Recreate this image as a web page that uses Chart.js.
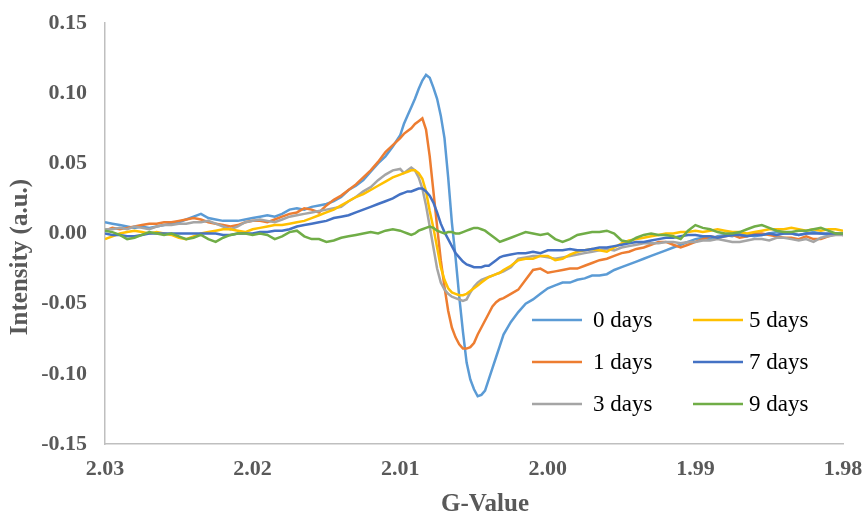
<!DOCTYPE html>
<html>
<head>
<meta charset="utf-8">
<script src="https://cdn.jsdelivr.net/npm/chart.js@4.4.1/dist/chart.umd.min.js"></script>
<style>
html,body{margin:0;padding:0;background:#ffffff;}
canvas{display:block;}
</style>
</head>
<body>
<canvas id="c" width="864" height="516"></canvas>
<script>
// G-values (x), shared by every series
const gValues = [
  2.0300, 2.0295, 2.0290, 2.0285, 2.0280, 2.0275, 2.0270, 2.0265, 2.0260, 2.0255,
  2.0250, 2.0245, 2.0240, 2.0235, 2.0230, 2.0225, 2.0220, 2.0215, 2.0210, 2.0205,
  2.0200, 2.0195, 2.0190, 2.0185, 2.0180, 2.0175, 2.0170, 2.0165, 2.0160, 2.0155,
  2.0150, 2.0145, 2.0140, 2.0135, 2.0130, 2.0125, 2.0120, 2.0115, 2.0110, 2.0105,
  2.01000, 2.00975, 2.00950, 2.00925, 2.00900, 2.00875, 2.00850, 2.00825, 2.00800, 2.00775,
  2.00750, 2.00725, 2.00700, 2.00675, 2.00650, 2.00625, 2.00600, 2.00575, 2.00550, 2.00525,
  2.00500, 2.00475, 2.00450, 2.00425, 2.00400, 2.00375, 2.00350, 2.00325, 2.00300,
  2.0025, 2.0020, 2.0015, 2.0010, 2.0005, 2.0000, 1.9995, 1.9990, 1.9985, 1.9980,
  1.9975, 1.9970, 1.9965, 1.9960, 1.9955, 1.9950, 1.9945, 1.9940, 1.9935, 1.9930,
  1.9925, 1.9920, 1.9915, 1.9910, 1.9905, 1.9900, 1.9895, 1.9890, 1.9885, 1.9880,
  1.9875, 1.9870, 1.9865, 1.9860, 1.9855, 1.9850, 1.9845, 1.9840, 1.9835, 1.9830,
  1.9825, 1.9820, 1.9815, 1.9810, 1.9805, 1.9800
];

const days0 = [
  0.008, 0.007, 0.006, 0.005, 0.004, 0.005, 0.004, 0.005, 0.006, 0.007,
  0.008, 0.010, 0.012, 0.014, 0.011, 0.010, 0.009, 0.009, 0.009, 0.010,
  0.011, 0.012, 0.013, 0.012, 0.014, 0.017, 0.018, 0.017, 0.019, 0.020,
  0.021, 0.023, 0.026, 0.031, 0.034, 0.038, 0.044, 0.050, 0.055, 0.062,
  0.070, 0.078, 0.084, 0.090, 0.096, 0.103, 0.109, 0.113, 0.111, 0.104,
  0.096, 0.084, 0.068, 0.040, 0.008, -0.017, -0.045, -0.070, -0.092, -0.104,
  -0.111, -0.116, -0.115, -0.112, -0.104, -0.096, -0.088, -0.080, -0.072,
  -0.063, -0.056, -0.050, -0.047, -0.043, -0.039, -0.037, -0.035, -0.035, -0.033,
  -0.032, -0.030, -0.030, -0.029, -0.026, -0.024, -0.022, -0.020, -0.018, -0.016,
  -0.014, -0.012, -0.010, -0.008, -0.006, -0.004, -0.003, -0.004, -0.002, -0.001,
  -0.002, 0.000, -0.001, -0.002, -0.001, 0.000, 0.001, 0.000, 0.000, -0.001,
  0.000, 0.001, 0.000, -0.001, 0.000, -0.001
];

const days1 = [
  0.002, 0.004, 0.003, 0.004, 0.005, 0.006, 0.007, 0.007, 0.008, 0.008,
  0.009, 0.010, 0.011, 0.010, 0.008, 0.007, 0.006, 0.005, 0.006, 0.008,
  0.009, 0.009, 0.008, 0.010, 0.012, 0.014, 0.015, 0.018, 0.017, 0.015,
  0.020, 0.024, 0.027, 0.031, 0.035, 0.040, 0.045, 0.051, 0.058, 0.063,
  0.068, 0.071, 0.073, 0.075, 0.078, 0.080, 0.082, 0.074, 0.055, 0.030,
  0.005, -0.019, -0.038, -0.055, -0.067, -0.074, -0.079, -0.082, -0.082, -0.081,
  -0.078, -0.072, -0.067, -0.062, -0.057, -0.052, -0.049, -0.047, -0.046,
  -0.043, -0.040, -0.033, -0.026, -0.025, -0.028, -0.027, -0.026, -0.025, -0.025,
  -0.023, -0.021, -0.019, -0.018, -0.016, -0.014, -0.013, -0.011, -0.010, -0.008,
  -0.006, -0.006, -0.008, -0.010, -0.008, -0.006, -0.004, -0.002, -0.003, -0.002,
  -0.001, -0.003, -0.002, 0.000, 0.000, -0.001, -0.002, -0.003, -0.003, -0.004,
  -0.002, -0.004, -0.004, -0.002, 0.000, -0.001
];

const days3 = [
  0.003, 0.003, 0.004, 0.003, 0.005, 0.004, 0.003, 0.005, 0.006, 0.006,
  0.007, 0.007, 0.008, 0.008, 0.009, 0.007, 0.005, 0.003, 0.005, 0.008,
  0.009, 0.010, 0.009, 0.008, 0.010, 0.012, 0.013, 0.014, 0.015, 0.016,
  0.017, 0.018, 0.019, 0.023, 0.026, 0.030, 0.033, 0.038, 0.042, 0.045,
  0.046, 0.043, 0.045, 0.047, 0.045, 0.040, 0.032, 0.020, 0.005, -0.010,
  -0.025, -0.035, -0.040, -0.043, -0.045, -0.046, -0.047, -0.048, -0.047, -0.042,
  -0.038, -0.035, -0.033, -0.032, -0.031, -0.030, -0.029, -0.028, -0.027,
  -0.024, -0.018, -0.017, -0.016, -0.016, -0.017, -0.018, -0.017, -0.016, -0.015,
  -0.014, -0.013, -0.012, -0.011, -0.012, -0.010, -0.009, -0.008, -0.007, -0.007,
  -0.007, -0.006, -0.006, -0.007, -0.006, -0.006, -0.005, -0.005, -0.004, -0.005,
  -0.006, -0.006, -0.005, -0.004, -0.004, -0.005, -0.003, -0.003, -0.004, -0.005,
  -0.004, -0.006, -0.003, -0.002, -0.001, -0.001
];

const days5 = [
  -0.004, -0.002, 0.000, 0.001, 0.002, 0.001, 0.000, 0.001, 0.000, -0.001,
  -0.003, -0.004, -0.002, 0.000, 0.001, 0.002, 0.003, 0.003, 0.002, 0.001,
  0.003, 0.004, 0.005, 0.006, 0.006, 0.007, 0.008, 0.009, 0.011, 0.013,
  0.015, 0.017, 0.020, 0.023, 0.026, 0.028, 0.031, 0.034, 0.037, 0.040,
  0.042, 0.043, 0.044, 0.045, 0.045, 0.043, 0.039, 0.030, 0.016, 0.004,
  -0.010, -0.024, -0.033, -0.039, -0.042, -0.043, -0.044, -0.044, -0.043, -0.041,
  -0.039, -0.037, -0.035, -0.033, -0.031, -0.030, -0.029, -0.028, -0.026,
  -0.023, -0.019, -0.018, -0.018, -0.016, -0.016, -0.019, -0.018, -0.015, -0.013,
  -0.012, -0.011, -0.012, -0.013, -0.010, -0.007, -0.005, -0.004, -0.003, -0.002,
  -0.001, 0.000, 0.000, 0.001, 0.001, 0.002, 0.001, 0.002, 0.003, 0.002,
  0.001, 0.001, 0.000, 0.001, 0.002, 0.003, 0.003, 0.003, 0.004, 0.003,
  0.002, 0.003, 0.002, 0.003, 0.003, 0.002
];

const days7 = [
  0.000, -0.001, -0.001, -0.002, -0.002, -0.001, 0.000, 0.000, 0.000, 0.000,
  0.000, 0.000, 0.000, 0.000, 0.000, 0.000, -0.001, -0.001, 0.000, 0.000,
  0.000, 0.001, 0.001, 0.002, 0.002, 0.003, 0.005, 0.006, 0.007, 0.008,
  0.009, 0.011, 0.012, 0.013, 0.015, 0.017, 0.019, 0.021, 0.023, 0.025,
  0.028, 0.029, 0.030, 0.030, 0.031, 0.032, 0.032, 0.030, 0.027, 0.022,
  0.015, 0.007, 0.001, -0.004, -0.009, -0.014, -0.017, -0.020, -0.022, -0.023,
  -0.024, -0.024, -0.024, -0.023, -0.023, -0.021, -0.019, -0.017, -0.016,
  -0.015, -0.014, -0.014, -0.013, -0.014, -0.012, -0.012, -0.012, -0.011, -0.012,
  -0.012, -0.011, -0.010, -0.010, -0.009, -0.008, -0.007, -0.006, -0.006, -0.005,
  -0.004, -0.003, -0.003, -0.002, -0.001, -0.001, -0.002, -0.002, -0.003, -0.002,
  -0.001, -0.001, -0.002, -0.001, -0.001, 0.000, -0.001, 0.000, 0.000, -0.001,
  0.000, 0.000, 0.000, 0.000, 0.000, 0.000
];

const days9 = [
  0.002, 0.001, -0.001, -0.004, -0.003, -0.001, 0.001, 0.000, -0.001, 0.000,
  -0.002, -0.004, -0.003, -0.001, -0.004, -0.006, -0.003, -0.001, 0.000, 0.000,
  -0.001, 0.000, -0.001, -0.004, -0.002, 0.001, 0.002, -0.002, -0.004, -0.004,
  -0.006, -0.005, -0.003, -0.002, -0.001, 0.000, 0.001, 0.000, 0.002, 0.003,
  0.002, 0.001, 0.000, -0.001, 0.000, 0.002, 0.003, 0.004, 0.005, 0.004,
  0.002, 0.001, 0.000, 0.001, 0.001, 0.000, 0.000, 0.001, 0.002, 0.003,
  0.004, 0.004, 0.003, 0.002, 0.000, -0.002, -0.004, -0.006, -0.005,
  -0.003, -0.001, 0.001, 0.000, -0.001, 0.000, -0.004, -0.006, -0.004, -0.001,
  0.000, 0.001, 0.001, 0.002, 0.000, -0.005, -0.006, -0.003, -0.001, 0.000,
  -0.001, -0.001, -0.002, -0.004, 0.002, 0.006, 0.004, 0.003, 0.001, 0.000,
  0.000, 0.001, 0.003, 0.005, 0.006, 0.004, 0.002, 0.001, 0.001, 0.002,
  0.002, 0.003, 0.004, 0.002, 0.000, 0.000
];

const seriesLabels = ['0 days', '1 days', '3 days', '5 days', '7 days', '9 days'];
const seriesValues = [days0, days1, days3, days5, days7, days9];
const seriesColors = ['#5B9BD5', '#ED7D31', '#A5A5A5', '#FFC000', '#4472C4', '#70AD47'];

const xTickLabels = ['2.03', '2.02', '2.01', '2.00', '1.99', '1.98'];
const yTickLabels = ['0.15', '0.10', '0.05', '0.00', '-0.05', '-0.10', '-0.15'];
const xTitle = 'G-Value';
const yTitle = 'Intensity (a.u.)';

const datasets = seriesLabels.map((label, i) => ({
  label: label,
  data: gValues.map((g, k) => ({ x: g, y: seriesValues[i][k] })),
  borderColor: seriesColors[i],
  backgroundColor: seriesColors[i],
  borderWidth: 2.5,
  pointRadius: 0,
  tension: 0,
  fill: false,
  order: seriesLabels.length - i
}));

const serif = '"Liberation Serif", "Times New Roman", serif';

const gridLegend = {
  id: 'gridLegend',
  afterDraw(chart) {
    const ctx = chart.ctx;
    const cols = [{ lineX: 532, textX: 593 }, { lineX: 693, textX: 749 }];
    const rows = [320, 362, 404];
    ctx.save();
    ctx.font = '23px ' + serif;
    ctx.textBaseline = 'middle';
    ctx.textAlign = 'left';
    chart.data.datasets.forEach((d, i) => {
      const c = cols[Math.floor(i / 3)];
      const y = rows[i % 3];
      ctx.strokeStyle = d.borderColor;
      ctx.lineWidth = 2.5;
      ctx.beginPath();
      ctx.moveTo(c.lineX, y);
      ctx.lineTo(c.lineX + 50, y);
      ctx.stroke();
      ctx.fillStyle = '#000000';
      ctx.fillText(d.label, c.textX, y + 1);
    });
    // axis titles
    ctx.fillStyle = '#595959';
    ctx.font = 'bold 25px ' + serif;
    ctx.textAlign = 'center';
    ctx.textBaseline = 'middle';
    ctx.fillText(xTitle, 485, 505);
    ctx.translate(21, 257);
    ctx.rotate(-Math.PI / 2);
    ctx.fillText(yTitle, 0, 0);
    ctx.restore();
  }
};

const tickFont = { family: serif, size: 22, weight: 'bold' };

new Chart(document.getElementById('c'), {
  type: 'line',
  data: { datasets: datasets },
  options: {
    responsive: false,
    animation: false,
    events: [],
    layout: { padding: { top: 23, right: 21, bottom: 0, left: 0 } },
    plugins: { legend: { display: false }, tooltip: { enabled: false } },
    scales: {
      x: {
        type: 'linear',
        reverse: true,
        min: 1.98,
        max: 2.03,
        grid: { display: false, drawTicks: false },
        border: { display: true, color: '#bfbfbf', width: 1.5 },
        ticks: {
          stepSize: 0.01,
          autoSkip: false,
          maxRotation: 0,
          padding: 12,
          color: '#595959',
          font: tickFont,
          callback: (v) => xTickLabels[Math.round((2.03 - v) / 0.01)]
        },
        afterFit: (s) => { s.height = 72; s.paddingLeft = 0; s.paddingRight = 0; }
      },
      y: {
        min: -0.15,
        max: 0.15,
        grid: { display: false, drawTicks: false },
        border: { display: true, color: '#bfbfbf', width: 1.5 },
        ticks: {
          stepSize: 0.05,
          padding: 18,
          color: '#595959',
          font: tickFont,
          callback: (v) => yTickLabels[Math.round((0.15 - v) / 0.05)]
        },
        afterFit: (s) => { s.width = 105; s.paddingTop = 0; s.paddingBottom = 0; }
      }
    }
  },
  plugins: [gridLegend]
});
</script>
</body>
</html>
